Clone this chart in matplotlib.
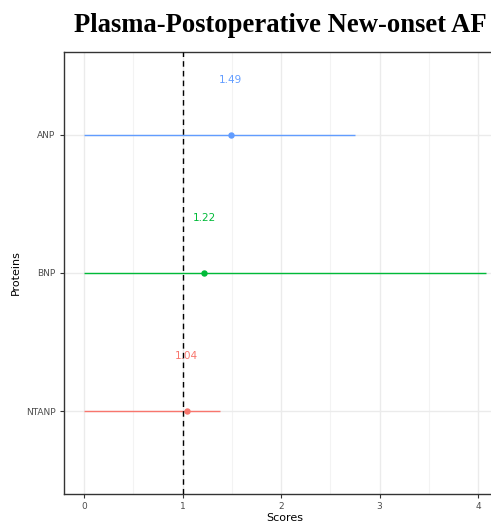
import matplotlib
matplotlib.use("Agg")
import matplotlib.pyplot as plt
import numpy as np

# data
proteins = ["NTANP", "BNP", "ANP"]
estimates = [1.04, 1.22, 1.49]
lower = [0.0, 0.0, 0.0]
upper = [1.38, 4.08, 2.75]
colours = ["#F8766D", "#00BA38", "#619CFF"]
x_ticks = [0, 1, 2, 3, 4]

fig = plt.figure(figsize=(4.91, 5.25), dpi=100)

# panel runs past the right edge of the picture, like the reference crop
px_left, px_right, px_top, px_bottom = 64, 506, 52, 494
ax = fig.add_axes([px_left / 491, (525 - px_bottom) / 525,
                   (px_right - px_left) / 491, (px_bottom - px_top) / 525])

ypos = np.arange(1, len(proteins) + 1)

# grid like ggplot theme_bw
for v in np.arange(0.5, 4.5, 1.0):
    ax.axvline(v, color="#F3F3F3", lw=0.8, zorder=0)
for v in x_ticks:
    ax.axvline(v, color="#EBEBEB", lw=1.0, zorder=0)
for v in ypos:
    ax.axhline(v, color="#EBEBEB", lw=1.0, zorder=0)

for i in range(len(proteins)):
    ax.hlines(ypos[i], lower[i], upper[i], color=colours[i], lw=1.0, zorder=2)
    ax.plot(estimates[i], ypos[i], "o", color=colours[i], ms=3.6, zorder=3)
    ax.text(estimates[i], ypos[i] + 0.4, f"{estimates[i]:.2f}", color=colours[i],
            ha="center", va="center", fontsize=7.5, zorder=4)

ax.axvline(1, color="black", lw=1.0, ls=(0, (4, 3)), zorder=3)

span = max(upper) - min(lower)
ax.set_xlim(min(lower) - 0.05 * span, max(upper) + 0.05 * span)
ax.set_ylim(0.4, len(proteins) + 0.6)
ax.set_xticks(x_ticks)
ax.set_yticks(ypos)
ax.set_yticklabels(proteins)
ax.tick_params(axis="both", labelsize=6.5, labelcolor="#4D4D4D", color="#333333",
               length=3, width=0.8, pad=3)

for side in ["left", "bottom", "top"]:
    ax.spines[side].set_color("#333333")
    ax.spines[side].set_linewidth(1.0)
ax.spines["right"].set_visible(False)

ax.set_xlabel("Scores", fontsize=8, labelpad=1.5)
ax.set_ylabel("Proteins", fontsize=8, labelpad=4)

fig.text(0.571, 0.951, "Plasma-Postoperative New-onset AF", ha="center", va="center",
         fontsize=19.2, fontweight="bold", family="Liberation Serif")

fig.savefig("out.png", dpi=100)
